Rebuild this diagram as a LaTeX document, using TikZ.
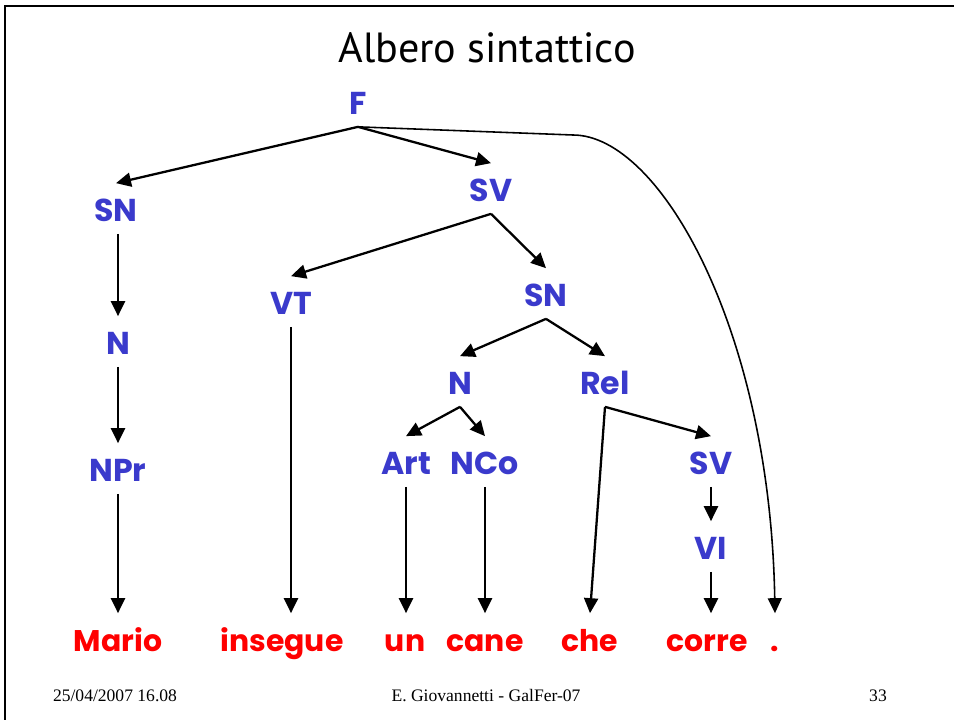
\documentclass[tikz,border=0pt]{standalone}
\usepackage{fontspec}
\setmainfont{Liberation Serif}
\newfontfamily\treefont{Poppins}
\newfontfamily\titlefont{PT Sans}
\usetikzlibrary{arrows.meta}
\definecolor{gfBlue}{RGB}{58,58,204}
\definecolor{gfRed}{RGB}{255,0,0}

\begin{document}
\begin{tikzpicture}[x=0.02cm,y=-0.02cm,
  cat/.style={anchor=base,inner sep=0pt,text height=7.5mm,text depth=2.5mm,
              font=\treefont\bfseries\fontsize{18}{18}\selectfont,text=gfBlue},
  word/.style={cat,text=gfRed,font=\treefont\bfseries\fontsize{17}{17}\selectfont},
  foot/.style={anchor=base,font=\fontsize{10}{12}\selectfont},
  arr/.style={-{Triangle[length=3mm,width=2.8mm]},line width=1.3pt}]
\useasboundingbox (0,0) rectangle (954,720);
\draw[line width=1.2pt] (954,6) -- (5,6) -- (5,720);
\node[anchor=base,font=\titlefont\fontsize{24}{24}\selectfont] (title) at (487,62) {Albero sintattico};
% categories
\node[cat] (F) at (358,114) {F};
\node[cat] (SNa) at (116,221) {SN};
\node[cat] (SVa) at (491,201) {SV};
\node[cat] (VT) at (291,314) {VT};
\node[cat] (SNb) at (546,306) {SN};
\node[cat] (Na) at (118,354) {N};
\node[cat] (Nb) at (460,394) {N};
\node[cat] (Rel) at (605,394) {Rel};
\node[cat] (NPr) at (118,481) {NPr};
\node[cat] (Art) at (406,474) {Art};
\node[cat] (NCo) at (485,474) {NCo};
\node[cat] (SVb) at (711,474) {SV};
\node[cat] (VI) at (711,559) {VI};
% words
\node[word] (mario) at (118,651) {Mario};
\node[word] (insegue) at (282,651) {insegue};
\node[word] (un) at (405,651) {un};
\node[word] (cane) at (485,651) {cane};
\node[word] (che) at (590,651) {che};
\node[word] (corre) at (707,651) {corre};
\node[word] (dot) at (775,651) {.};
% footer
\node[foot] (date) at (115,701) {25/04/2007 16.08};
\node[foot] (author) at (486,701) {E. Giovannetti - GalFer-07};
\node[foot] (page) at (878,701) {33};
% edges
\draw[arr] (F.south) -- (SNa.north);
\draw[arr] (F.south) -- (SVa.north);
\coordinate (bend) at (573,135);
\draw[line width=0.9pt,-{Triangle[length=3mm,width=2.8mm]}] (F.south) -- (bend)
  .. controls (660,135) and (770,330) .. (dot.north);
\draw[arr] (Na.north |- SNa.south) -- (Na.north);
\draw[arr] (Na.south) -- (NPr.north);
\draw[arr] (NPr.south) -- (NPr.south |- mario.north);
\draw[arr] (SVa.south) -- (VT.north);
\draw[arr] (SVa.south) -- (SNb.north);
\draw[arr] (VT.south) -- (VT.south |- insegue.north);
\draw[arr] (SNb.south) -- (Nb.north);
\draw[arr] (SNb.south) -- (Rel.north);
\draw[arr] (Nb.south) -- (Art.north);
\draw[arr] (Nb.south) -- (NCo.north);
\draw[arr] (Art.south) -- (Art.south |- un.north);
\draw[arr] (NCo.south) -- (NCo.south |- cane.north);
\draw[arr] (Rel.south) -- (che.north);
\draw[arr] (Rel.south) -- (SVb.north);
\draw[arr] (SVb.south) -- (VI.north);
\draw[arr] (VI.south) -- (VI.south |- corre.north);
\end{tikzpicture}
\end{document}
